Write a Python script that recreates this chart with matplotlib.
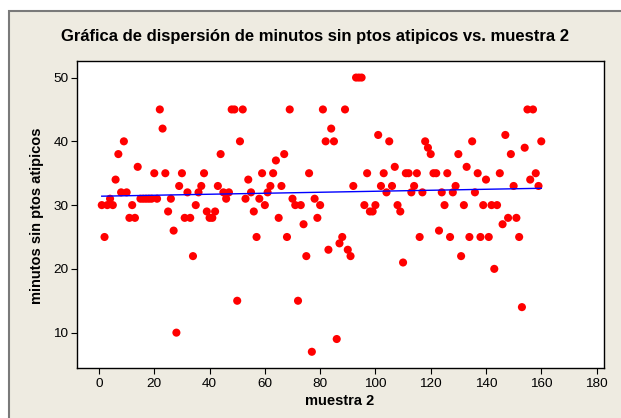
import numpy as np
import matplotlib.pyplot as plt
from matplotlib.patches import Rectangle

plt.rcParams['font.family'] = ['Liberation Sans', 'DejaVu Sans']

# muestra 2 runs 1..160, one reading per sample
muestra = list(range(1, 161))
minutos = [30, 25, 30, 31, 30, 34, 38, 32, 40, 32,
           28, 30, 28, 36, 31, 31, 31, 31, 31, 35,
           31, 45, 42, 35, 29, 31, 26, 10, 33, 35,
           28, 32, 28, 22, 30, 32, 33, 35, 29, 28,
           28, 29, 33, 38, 32, 31, 32, 45, 45, 15,
           40, 45, 31, 34, 32, 29, 25, 31, 35, 30,
           32, 33, 35, 37, 28, 33, 38, 25, 45, 31,
           30, 15, 30, 27, 22, 35, 7, 31, 28, 30,
           45, 40, 23, 42, 40, 9, 24, 25, 45, 23,
           22, 33, 50, 50, 50, 30, 35, 29, 29, 30,
           41, 33, 35, 32, 40, 33, 36, 30, 29, 21,
           35, 35, 32, 33, 35, 25, 32, 40, 39, 38,
           35, 35, 26, 32, 30, 35, 25, 32, 33, 38,
           22, 30, 36, 25, 40, 32, 35, 25, 30, 34,
           25, 30, 20, 30, 35, 27, 41, 28, 38, 33,
           28, 25, 14, 39, 45, 34, 45, 35, 33, 40]

x_ticks = [0, 20, 40, 60, 80, 100, 120, 140, 160, 180]
y_ticks = [10, 20, 30, 40, 50]

fig = plt.figure(figsize=(6.21, 4.18), dpi=100, facecolor='white')

# beige panel behind everything, with grey border on top/left
fig.add_artist(Rectangle((8.5 / 621, -0.05), 1.1, 1.05 - 11.5 / 418,
                         transform=fig.transFigure, facecolor='#EEEBE1',
                         edgecolor='#7A7A7A', linewidth=1.5, zorder=-10))

ax = fig.add_axes([0.1235, 0.1203, 0.8496, 0.7338])
ax.set_facecolor('white')

ax.scatter(muestra, minutos, s=34, color='red', edgecolors='none', zorder=3)

# least squares line
slope, intercept = np.polyfit(muestra, minutos, 1)
xs = np.array([min(muestra), max(muestra)])
ax.plot(xs, intercept + slope * xs, color='blue', linewidth=1, zorder=4)

ax.set_xlim(-8.07, 182.8)
ax.set_ylim(4.5, 52.6)
ax.set_xticks(x_ticks)
ax.set_yticks(y_ticks)
ax.tick_params(direction='out', length=4, width=0.8, labelsize=9.7, colors='black')
ax.tick_params(axis='x', pad=3.5)
ax.tick_params(axis='y', pad=2)
for sp in ax.spines.values():
    sp.set_linewidth(1)
    sp.set_color('black')

fig.text(315 / 621, 1 - 37 / 418,
         'Gráfica de dispersión de minutos sin ptos atipicos vs. muestra 2',
         ha='center', va='center', fontsize=12, fontweight='bold')
fig.text(340 / 621, 1 - 401 / 418, 'muestra 2',
         ha='center', va='center', fontsize=10.5, fontweight='bold')
fig.text(37 / 621, 1 - 216 / 418, 'minutos sin ptos atipicos',
         ha='center', va='center', rotation=90, fontsize=10.5, fontweight='bold')

fig.savefig('out.png', dpi=100, facecolor=fig.get_facecolor())
